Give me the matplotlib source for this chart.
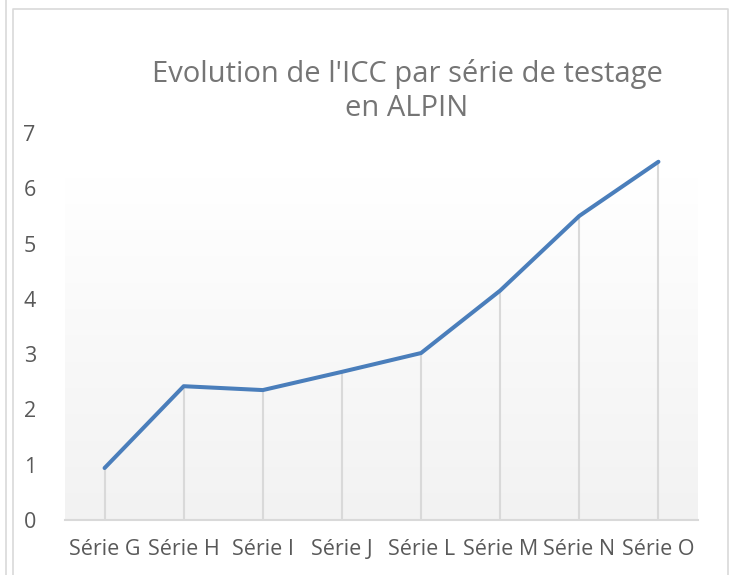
import matplotlib.pyplot as plt
import numpy as np
from matplotlib.lines import Line2D

series = ["Série G", "Série H", "Série I", "Série J", "Série L", "Série M", "Série N", "Série O"]
icc = [0.94, 2.42, 2.35, 2.68, 3.02, 4.15, 5.50, 6.48]
y_ticks = [0, 1, 2, 3, 4, 5, 6, 7]

plt.rcParams['font.family'] = ['Open Sans', 'DejaVu Sans']

fig = plt.figure(figsize=(7.35, 5.75), dpi=100)
ax = fig.add_axes([65 / 735, 55 / 575, 633 / 735, 387 / 575])

x = np.arange(len(series))

# fond en degradé (blanc en haut, gris clair en bas)
grad = np.linspace(1.0, 0.0, 256).reshape(-1, 1)
top = np.array([1.0, 1.0, 1.0])
bottom = np.array([0xf2, 0xf2, 0xf2]) / 255
img = top * grad[..., None] + bottom * (1 - grad[..., None])
ax.imshow(img, extent=(-0.5, 7.5, 0, 6.2), aspect="auto", zorder=0, origin="upper")

ax.vlines(x, 0, icc, color="#d9d9d9", lw=1.5, zorder=1)
ax.plot(x, icc, color="#4a7ebb", lw=2.9, solid_capstyle="round", solid_joinstyle="round", zorder=3)

ax.set_xlim(-0.5, 7.5)
ax.set_ylim(0, 7)
ax.set_xticks(x)
ax.set_xticklabels(series)
ax.set_yticks(y_ticks)

for s in ["top", "right", "left"]:
    ax.spines[s].set_visible(False)
ax.spines["bottom"].set_color("#d9d9d9")
ax.spines["bottom"].set_linewidth(1.5)
ax.tick_params(axis="both", length=0, labelsize=15.5, labelcolor="#595959")
ax.tick_params(axis="x", pad=14)
ax.tick_params(axis="y", pad=21)

fig.text(407 / 735, 1 - 74 / 575, "Evolution de l'ICC par série de testage", ha="center", va="center",
         fontsize=21, color="#757575")
fig.text(407 / 735, 1 - 108 / 575, "en ALPIN", ha="center", va="center", fontsize=21, color="#757575")

# bordures
fig.add_artist(Line2D([6 / 735, 6 / 735], [0, 1], color="#d9d9d9", lw=1.2))
fig.add_artist(Line2D([13 / 735, 13 / 735, 728 / 735, 728 / 735], [0, 1 - 9 / 575, 1 - 9 / 575, 0],
                      color="#d9d9d9", lw=1.2))

fig.savefig("out.png")
